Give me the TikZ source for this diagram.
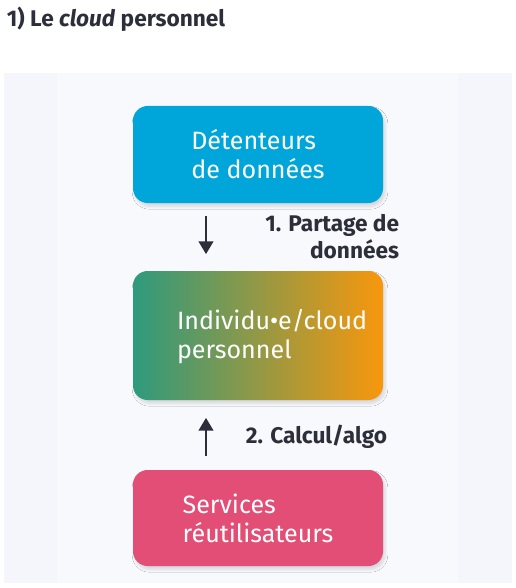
\documentclass[tikz,border=0pt]{standalone}
\usepackage{fontspec}
\setmainfont{Fira Sans}
\usepackage{tikz}
\usetikzlibrary{arrows.meta,shadows.blur}

\definecolor{fond}{HTML}{F5F6FB}
\definecolor{fondclair}{HTML}{F8F9FC}
\definecolor{bleu}{HTML}{00A5DA}
\definecolor{rose}{HTML}{E24E75}
\definecolor{vert}{HTML}{2E9A7E}
\definecolor{orange}{HTML}{F8970C}
\definecolor{encre}{HTML}{2C2F3A}

\begin{document}
\begin{tikzpicture}
    [x=0.75pt,y=-0.75pt,->,>={Triangle[length=9.5pt,width=11pt]},line width=1.4pt,
      boite/.style={rounded corners=11pt,minimum width=187.5pt,align=left,
        text=white,font=\fontsize{18.8}{21.75}\selectfont,
        blur shadow={shadow xshift=1.5pt,shadow yshift=-2.5pt,shadow blur steps=8,shadow opacity=14}},
      texte/.style={align=left,text=white,font=\fontsize{18.8}{21.75}\selectfont,inner sep=0pt},
      etiquette/.style={text=encre,font=\fontsize{17}{20.5}\selectfont\bfseries,inner sep=0pt}]
      \useasboundingbox (0,0) rectangle (516,588);
      % fond
      \fill[fond] (4,73) rectangle (512,583);
      \fill[fondclair] (57,73) rectangle (458,583);
      \node[anchor=base west,inner sep=0pt,text=encre,font=\fontsize{17}{20}\selectfont\bfseries]
        (titre) at (6,27) {1) Le \textit{cloud} personnel};

      \node[boite,fill=bleu,minimum height=72.75pt] (detenteurs) at (258,154.5)
        {Détenteurs\\de données};
      \node[boite,shading=axis,left color=vert,right color=orange,minimum height=96.75pt]
        (individu) at (258,335.5) {};
      \node[texte,anchor=west] (cloud) at ([xshift=33pt,yshift=-1pt]individu.west)
        {Individu•e/cloud\\personnel};
      \node[boite,fill=rose,minimum height=72pt] (services) at (258,518)
        {Services\\réutilisateurs};

      \node[etiquette,anchor=north east,align=right] (partage) at (400,213)
        {1. Partage de\\données};
      \node[etiquette,anchor=base west] (calcul) at (245,443) {2. Calcul/algo};

      \draw[encre,shorten <=9pt,shorten >=12pt]
        ([xshift=-39pt]detenteurs.south) -- ([xshift=-39pt]detenteurs.south |- individu.north);
      \draw[encre,shorten <=9.75pt,shorten >=12.75pt]
        ([xshift=-39pt]services.north) -- ([xshift=-39pt]services.north |- individu.south);
    \end{tikzpicture}
\end{document}
